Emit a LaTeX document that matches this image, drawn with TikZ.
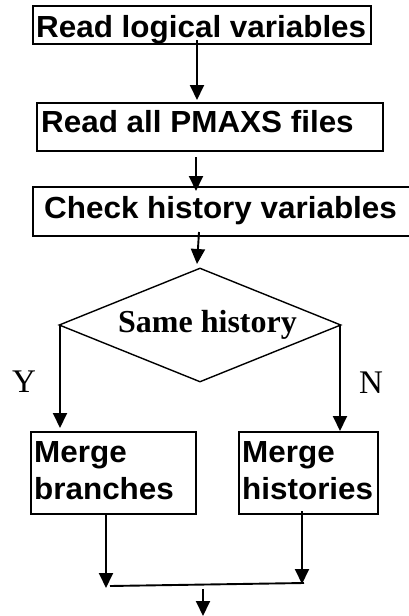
\documentclass[tikz,border=0pt]{standalone}
\usepackage{fontspec}
\usetikzlibrary{arrows.meta,shapes.geometric}
\newfontfamily\boxfont{Liberation Sans}
\newfontfamily\serffont{Liberation Serif}
\tikzset{
  box/.style={draw, line width=1.6pt, rectangle, inner sep=0pt},
  decision/.style={draw, line width=1.4pt, diamond, inner sep=0pt},
  lbl/.style={inner sep=0pt, anchor=base west,
    font=\boxfont\bfseries\fontsize{30.5}{36}\selectfont},
  decl/.style={inner sep=0pt, anchor=base west,
    font=\serffont\bfseries\fontsize{32}{38}\selectfont},
  yn/.style={inner sep=0pt, anchor=base west,
    font=\serffont\fontsize{33}{38}\selectfont},
  arr/.style={line width=1.9pt, -{Triangle[length=15pt,width=14pt]}},
  joinline/.style={line width=1.9pt}
}
\newcommand{\wide}[1]{\scalebox{1.03}[1]{#1}}
\begin{document}
\begin{tikzpicture}[x=1pt,y=-1pt]
  \useasboundingbox (0,0) rectangle (409,616);
  \clip (0,0) rectangle (409,616);

  % process boxes
  \node[box, minimum width=338pt, minimum height=38pt] (b1) at (202,25) {};
  \node[box, minimum width=346pt, minimum height=48pt] (b2) at (210,127) {};
  \node[box, minimum width=387pt, minimum height=49pt] (b3) at (226.5,211.5) {};
  \node[decision, minimum width=282pt, minimum height=114pt] (d) at (200,325) {};
  \node[box, minimum width=165pt, minimum height=82pt] (mb) at (113.5,473) {};
  \node[box, minimum width=139pt, minimum height=82pt] (mh) at (308.5,473) {};

  % texts
  \node[lbl] (t1) at (36,37) {\wide{Read logical variables}};
  \node[lbl] (t2) at (41,132) {\wide{Read all PMAXS files}};
  \node[lbl] (t3) at (44,218) {\wide{Check history variables}};
  \node[decl] (t4) at (118,332) {Same history};
  \node[yn] (ty) at (12,392) {Y};
  \node[yn] (tn) at (359,393) {N};
  \node[lbl] (t5a) at (34,462) {\wide{Merge}};
  \node[lbl] (t5b) at (34,499) {\wide{branches}};
  \node[lbl] (t6a) at (242,462) {\wide{Merge}};
  \node[lbl] (t6b) at (242,499) {\wide{histories}};

  % connector end points
  \coordinate (c1s) at (197,40);
  \coordinate (c1e) at (197,100);
  \coordinate (c2s) at (196,157);
  \coordinate (c2e) at (196,191);
  \coordinate (c3s) at (199,232);
  \coordinate (c3e) at (197,264);
  \coordinate (yl) at (60,325);
  \coordinate (yle) at (60,428);
  \coordinate (nr) at (340,325);
  \coordinate (nre) at (340,431);
  \coordinate (mbs) at (106,514);
  \coordinate (mbe) at (106,588);
  \coordinate (mhs) at (302,511);
  \coordinate (mhe) at (302,584);
  \coordinate (jl) at (110,586);
  \coordinate (jr) at (304,583);
  \coordinate (os) at (203,589);
  \coordinate (oe) at (203,616);

  % connectors
  \draw[arr] (c1s) -- (c1e);
  \draw[arr] (c2s) -- (c2e);
  \draw[arr] (c3s) -- (c3e);
  \draw[arr] (yl) -- (yle);
  \draw[arr] (nr) -- (nre);
  \draw[arr] (mbs) -- (mbe);
  \draw[arr] (mhs) -- (mhe);
  \draw[joinline] (jl) -- (jr);
  \draw[arr] (os) -- (oe);
\end{tikzpicture}
\end{document}
